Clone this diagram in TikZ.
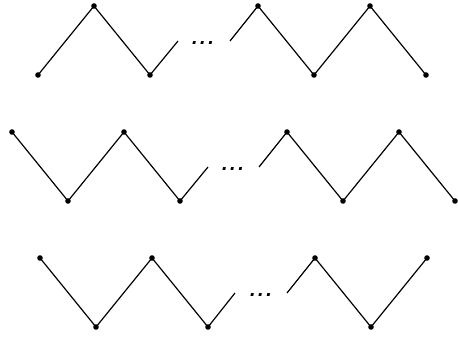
\documentclass[tikz,border=0pt]{standalone}
\usepackage{fontspec}
\setmainfont{Liberation Sans}
\begin{document}
\begin{tikzpicture}[x=1pt,y=-1pt,
  zig/.style={line width=1.2pt,black},
  pt/.style={circle,fill=black,inner sep=0pt,minimum size=5.6pt},
  ell/.style={inner sep=0pt,font=\fontsize{20}{20}\selectfont\bfseries\itshape}]
\useasboundingbox (0,0) rectangle (458,337);
% Row 1
\foreach \n/\x/\y in {a1/38/75, a2/94/6, a3/150/75, a4/258/6, a5/314/75, a6/370/6, a7/426/75}
  \node[pt] (\n) at (\x,\y) {};
\coordinate (a3s) at (178,41);
\coordinate (a4s) at (230,41);
\node[ell] (ad) at (203,43) {.\hspace{2.5pt}.\hspace{2.5pt}.};
\draw[zig] (a1.center) -- (a2.center) -- (a3.center) -- (a3s);
\draw[zig] (a4s) -- (a4.center) -- (a5.center) -- (a6.center) -- (a7.center);
% Row 2
\foreach \n/\x/\y in {b1/12/132, b2/68/201, b3/124/132, b4/180/201, b5/287/132, b6/343/201, b7/399/132, b8/455/201}
  \node[pt] (\n) at (\x,\y) {};
\coordinate (b4s) at (208,167);
\coordinate (b5s) at (259,167);
\node[ell] (bd) at (233,169) {.\hspace{2.5pt}.\hspace{2.5pt}.};
\draw[zig] (b1.center) -- (b2.center) -- (b3.center) -- (b4.center) -- (b4s);
\draw[zig] (b5s) -- (b5.center) -- (b6.center) -- (b7.center) -- (b8.center);
% Row 3
\foreach \n/\x/\y in {c1/40/258, c2/96/327, c3/152/258, c4/208/327, c5/315/258, c6/371/327, c7/427/258}
  \node[pt] (\n) at (\x,\y) {};
\coordinate (c4s) at (235,293);
\coordinate (c5s) at (287,293);
\node[ell] (cd) at (261,295) {.\hspace{2.5pt}.\hspace{2.5pt}.};
\draw[zig] (c1.center) -- (c2.center) -- (c3.center) -- (c4.center) -- (c4s);
\draw[zig] (c5s) -- (c5.center) -- (c6.center) -- (c7.center);
\end{tikzpicture}
\end{document}
